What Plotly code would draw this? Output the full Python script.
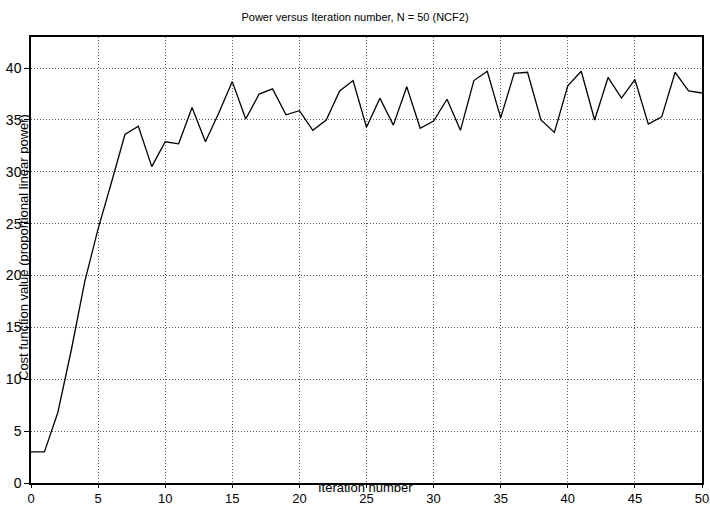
import plotly.graph_objects as go

iterations = list(range(0, 51))
power = [3.0, 3.0, 6.8, 12.8, 19.4, 24.5, 29.0, 33.6, 34.4, 30.5,
         32.9, 32.7, 36.2, 32.9, 35.7, 38.7, 35.1, 37.5, 38.0, 35.5,
         35.9, 34.0, 35.0, 37.8, 38.8, 34.3, 37.1, 34.5, 38.2, 34.2,
         34.9, 37.0, 34.0, 38.8, 39.7, 35.2, 39.5, 39.6, 35.0, 33.8,
         38.3, 39.7, 35.0, 39.1, 37.1, 38.9, 34.6, 35.3, 39.6, 37.8, 37.6]

title_text = "Power versus Iteration number, N = 50 (NCF2)"
x_label = "Iteration number"
y_label = "Cost function value (proportional linear power)"
x_ticks = [0, 5, 10, 15, 20, 25, 30, 35, 40, 45, 50]
y_ticks = [0, 5, 10, 15, 20, 25, 30, 35, 40]

font_family = "Liberation Sans, Arial, sans-serif"

fig = go.Figure()
fig.add_trace(go.Scatter(
    x=iterations, y=power, mode="lines",
    line=dict(color="black", width=1.3),
    showlegend=False,
))

axis_common = dict(
    showline=True, linecolor="black", linewidth=1.5, mirror=True,
    ticks="outside", tickcolor="black", tickwidth=1,
    showgrid=True, gridcolor="#555555", griddash="1px,2px", gridwidth=1,
    zeroline=False, automargin=False,
)

fig.update_layout(
    width=710, height=508,
    margin=dict(l=31, r=8, t=37, b=25),
    paper_bgcolor="white", plot_bgcolor="white",
    font=dict(family=font_family, color="black"),
    title=dict(text=title_text, x=0.5, xref="container", xanchor="center",
               y=1 - 17 / 508, yref="container", yanchor="middle",
               font=dict(size=11, family=font_family, color="black")),
    xaxis=dict(range=[0, 50], tickvals=x_ticks, ticklen=3,
               tickfont=dict(family=font_family, size=13, color="black"),
               **axis_common),
    yaxis=dict(range=[0, 43], tickvals=y_ticks, ticklen=5,
               tickfont=dict(family=font_family, size=14, color="black"),
               **axis_common),
)

fig.add_annotation(
    text=x_label, xref="paper", yref="paper",
    x=(365 - 31) / 671, y=-(488 - 483) / 446,
    showarrow=False, xanchor="center", yanchor="middle",
    font=dict(size=13, family=font_family, color="black"),
)
fig.add_annotation(
    text=y_label, xref="paper", yref="paper",
    x=(23 - 31) / 671, y=(483 - 247) / 446,
    showarrow=False, xanchor="center", yanchor="middle", textangle=-90,
    font=dict(size=13, family=font_family, color="black"),
)

fig.write_html("out.html")
